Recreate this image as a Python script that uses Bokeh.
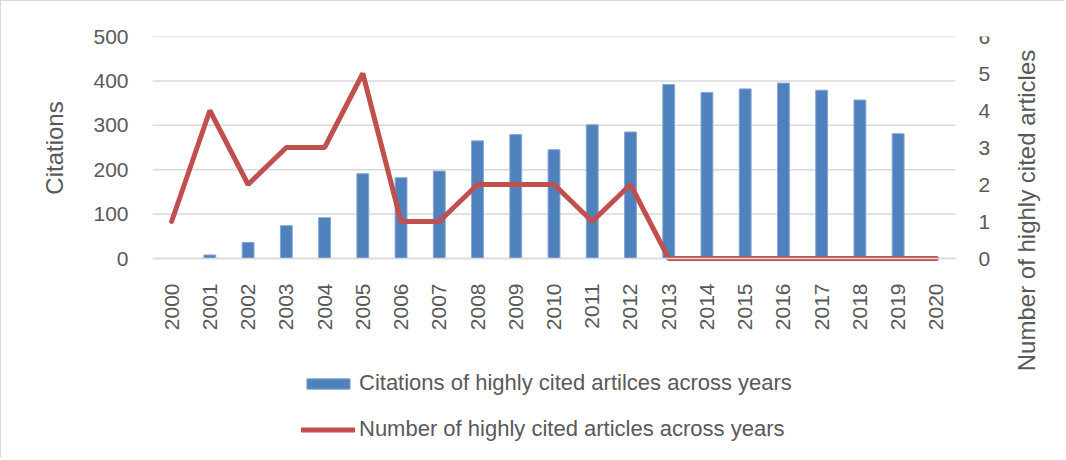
import math
from bokeh.plotting import figure
from bokeh.models import (Range1d, LinearAxis, Legend, LegendItem, Label,
                          FixedTicker, ColumnDataSource)
from bokeh.embed import file_html
from bokeh.resources import INLINE

years = list(range(2000, 2021))
year_labels = [str(y) for y in years]
citations = [0, 8, 36, 74, 92, 191, 182, 197, 265, 279, 245, 301, 285,
             392, 374, 382, 395, 379, 357, 281, 0]
articles = [1, 4, 2, 3, 3, 5, 1, 1, 2, 2, 2, 1, 2, 0, 0, 0, 0, 0, 0, 0, 0]
cit_ticks = [0, 100, 200, 300, 400, 500]
art_ticks = [0, 1, 2, 3, 4, 5, 6]

label_bar = "Citations of highly cited artilces across years"
label_line = "Number of highly cited articles across years"
left_title = "Citations"
right_title = "Number of highly cited articles"

TXT = "#595959"
GRID = "#d9d9d9"
FONT = "Liberation Sans"
NB = "\u00a0"

# layout (canvas pixels)
W, H = 1064, 458
TOP, LEFT = 35, 151
PLOT_W, PLOT_H = 803, 222           # value area: 21 years wide, 0..500 tall
BELOW = H - TOP - PLOT_H
ext = BELOW / PLOT_H
px_per_year = PLOT_W / len(years)
x_start = years[0] - 0.5
x_last = years[-1] + 0.5
x_end = x_start + (W - LEFT) / px_per_year
TITLE_CX, TITLE_CY = 1025, 209       # centre of the right title, canvas px

src = ColumnDataSource(dict(year=years, cit=citations, art=articles))

p = figure(width=W, height=H, x_range=Range1d(x_start, x_end),
           y_range=Range1d(-500 * ext, 500), output_backend="svg",
           toolbar_location=None, min_border_left=LEFT, min_border_right=0,
           min_border_top=TOP, min_border_bottom=0)
p.styles = {"border-left": "1px solid #d9d9d9", "border-top": "1px solid #d9d9d9"}
p.outline_line_color = None
p.extra_y_ranges = {"n": Range1d(-6 * ext, 6)}

# grid lines limited to the value area
p.xgrid.grid_line_color = None
p.ygrid.grid_line_color = None
p.segment(x0=[x_start] * len(cit_ticks), x1=[x_last] * len(cit_ticks),
          y0=cit_ticks, y1=cit_ticks, line_color=GRID, line_width=1.5,
          level="underlay")

bars = p.vbar(x="year", top="cit", width=0.31, source=src,
              fill_color="#4f81bd", line_color="#86a7d3", line_width=1)
line = p.line(x="year", y="art", y_range_name="n", source=src,
              line_color="#c0504d", line_width=5, line_cap="round")

# x axis, pinned at y = 0
xa = p.xaxis[0]
xa.fixed_location = 0
xa.bounds = (x_start, x_last)
xa.ticker = FixedTicker(ticks=years)
xa.major_label_overrides = dict(zip(years, year_labels))
xa.axis_line_color = GRID
xa.axis_line_width = 1.5
xa.major_tick_line_color = None
xa.minor_tick_line_color = None
xa.major_tick_out = 0
xa.major_tick_in = 0
xa.major_label_orientation = math.pi / 2
xa.major_label_standoff = 25
xa.major_label_text_font = FONT
xa.major_label_text_font_size = "21px"
xa.major_label_text_color = TXT

# left axis
ya = p.yaxis[0]
ya.ticker = FixedTicker(ticks=cit_ticks)
ya.axis_line_color = None
ya.major_tick_line_color = None
ya.minor_tick_line_color = None
ya.major_tick_out = 0
ya.major_tick_in = 0
ya.major_label_standoff = 24
ya.major_label_text_font = FONT
ya.major_label_text_font_size = "21px"
ya.major_label_text_color = TXT
ya.axis_label = NB * 30 + left_title
ya.axis_label_text_font = FONT
ya.axis_label_text_font_size = "24px"
ya.axis_label_text_font_style = "normal"
ya.axis_label_text_color = TXT
ya.axis_label_standoff = 22

# right axis, pinned at the right edge of the value area
ra = LinearAxis(y_range_name="n", ticker=FixedTicker(ticks=art_ticks))
ra.fixed_location = x_last
ra.axis_line_color = None
ra.major_tick_line_color = None
ra.minor_tick_line_color = None
ra.major_tick_out = 0
ra.major_tick_in = 0
ra.major_label_standoff = 23
ra.major_label_text_font = FONT
ra.major_label_text_font_size = "21px"
ra.major_label_text_color = TXT
p.add_layout(ra, "right")

# right axis title, reading bottom to top
title_r = Label(x=x_start + (TITLE_CX - LEFT) / px_per_year,
                y=(TOP + PLOT_H - TITLE_CY) / PLOT_H * 500,
                text=right_title, angle=math.pi / 2,
                text_align="center", text_baseline="middle",
                text_font=FONT, text_font_size="24px", text_color=TXT)
p.add_layout(title_r)

legend = Legend(items=[LegendItem(label=label_bar, renderers=[bars]),
                       LegendItem(label=label_line, renderers=[line])],
                location=(149, 17), orientation="vertical",
                glyph_width=54, glyph_height=13, label_height=20,
                label_standoff=4, spacing=20, padding=0, margin=0,
                label_text_font=FONT, label_text_font_size="22px",
                label_text_color=TXT, border_line_color=None,
                background_fill_alpha=0)
p.add_layout(legend, "center")

open("out.html", "w").write(file_html(p, INLINE))
